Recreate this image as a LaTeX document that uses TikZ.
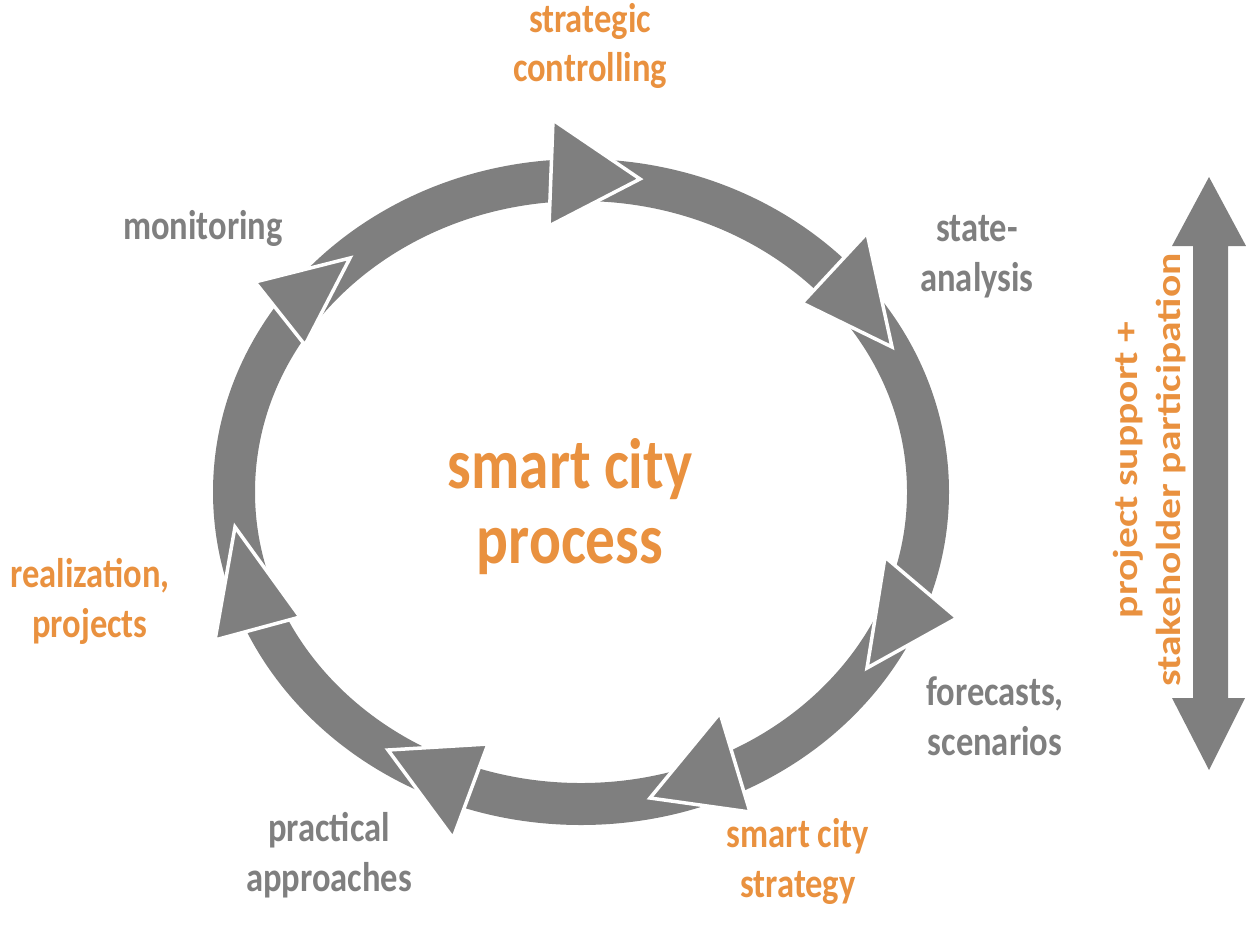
\documentclass[tikz,border=0pt]{standalone}
\usepackage{fontspec}
\setmainfont{Carlito}[FakeStretch=0.833]
\newfontfamily\sidefont{Carlito}[FakeStretch=1.2]
\definecolor{ringgray}{HTML}{7F7F7F}
\definecolor{cityorange}{HTML}{E9913F}
\tikzset{
  band/.style={draw=ringgray, line width=0.84cm},
  head/.style={fill=ringgray, draw=white, line width=0.07cm, line join=miter},
  steplabel/.style={inner sep=0pt, align=center, font=\bfseries\fontsize{23.6}{28.4}\selectfont},
  orangelabel/.style={steplabel, text=cityorange},
  graylabel/.style={steplabel, text=ringgray}
}
\begin{document}
\begin{tikzpicture}[x=0.02cm, y=-0.02cm]
  \useasboundingbox (0,0) rectangle (1246,937);
  \draw[band] (581,492) ellipse [x radius=347, y radius=312];
  \filldraw[head] (553,120) -- (640,179) -- (549,226) -- cycle;
  \filldraw[head] (867,233) -- (892,347) -- (802,303) -- cycle;
  \filldraw[head] (885,557) -- (957,618) -- (867,668) -- cycle;
  \filldraw[head] (720,713) -- (750,812) -- (650,798) -- cycle;
  \filldraw[head] (488,744) -- (453,838) -- (388,750) -- cycle;
  \filldraw[head] (300,617) -- (215,640) -- (235,527) -- cycle;
  \filldraw[head] (255,282) -- (350,258) -- (305,345) -- cycle;
  \fill[ringgray] (1209,177) -- (1246,246) -- (1228,246) -- (1228,698) -- (1245,698)
    -- (1209,770) -- (1172,698) -- (1193,698) -- (1193,246) -- (1172,246) -- cycle;
  \node[orangelabel] (ctrl) at (590,46) {strategic\\controlling};
  \node[graylabel] (state) at (977,257) {state-\\analysis};
  \node[graylabel] (fcast) at (995,716) {forecasts,\\scenarios};
  \node[orangelabel] (strat) at (798,861) {smart city\\strategy};
  \node[graylabel] (pract) at (329,855) {practical\\approaches};
  \node[orangelabel] (real) at (90,601) {realization,\\projects};
  \node[graylabel] (monit) at (203,228) {monitoring};
  \node[orangelabel, font=\bfseries\fontsize{40.6}{42.7}\selectfont] (title) at (570,507) {smart city\\process};
  \node[orangelabel, rotate=90, font=\sidefont\bfseries\fontsize{19.7}{24.5}\selectfont] (side) at (1150,470)
    {project support +\\stakeholder participation};
\end{tikzpicture}
\end{document}
